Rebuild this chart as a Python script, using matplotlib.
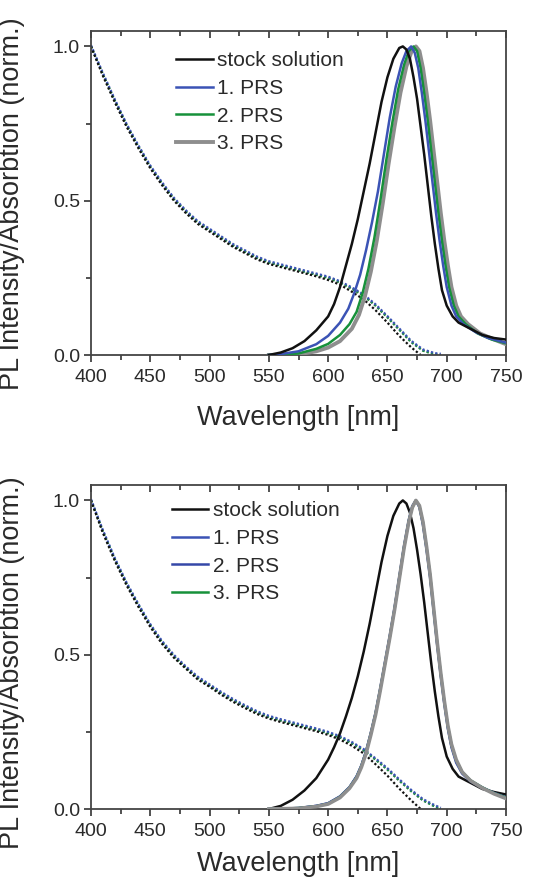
import numpy as np
import matplotlib
matplotlib.use('Agg')
import matplotlib.pyplot as plt
from matplotlib.ticker import MultipleLocator

plt.rcParams['font.family'] = ['Liberation Sans', 'DejaVu Sans']

# ---------------- data ----------------
# absorption
abs_wl_k = [400, 410, 420, 430, 440, 450, 460, 470, 480, 490, 500, 510, 520, 530, 540, 550,
            560, 570, 580, 590, 600, 610, 620, 630, 640, 650, 660, 670, 678]
abs_k_top = [1.0, 0.905, 0.82, 0.74, 0.67, 0.605, 0.55, 0.5, 0.46, 0.425, 0.4, 0.375, 0.35, 0.33,
             0.31, 0.295, 0.285, 0.275, 0.265, 0.255, 0.243, 0.228, 0.205, 0.18, 0.145, 0.105,
             0.062, 0.025, 0.0]
abs_wl_c = [400, 410, 420, 430, 440, 450, 460, 470, 480, 490, 500, 510, 520, 530, 540, 550,
            560, 570, 580, 590, 600, 610, 620, 630, 640, 650, 660, 670, 680, 690, 695]
abs_c_top = [1.0, 0.91, 0.825, 0.745, 0.675, 0.61, 0.555, 0.505, 0.465, 0.43, 0.405, 0.38, 0.355,
             0.335, 0.315, 0.3, 0.29, 0.28, 0.27, 0.26, 0.25, 0.235, 0.215, 0.192, 0.16, 0.122,
             0.082, 0.042, 0.014, 0.002, 0.0]
abs_k_bot = [1.0, 0.895, 0.805, 0.725, 0.655, 0.59, 0.535, 0.49, 0.455, 0.42, 0.396, 0.37, 0.347,
             0.327, 0.308, 0.293, 0.282, 0.272, 0.262, 0.252, 0.24, 0.225, 0.205, 0.18, 0.145,
             0.108, 0.066, 0.028, 0.0]
abs_c_bot = [1.0, 0.9, 0.81, 0.73, 0.66, 0.595, 0.54, 0.495, 0.458, 0.425, 0.4, 0.375, 0.352,
             0.332, 0.313, 0.298, 0.287, 0.277, 0.267, 0.257, 0.246, 0.232, 0.213, 0.19, 0.16,
             0.128, 0.092, 0.058, 0.028, 0.008, 0.0]

# PL, top panel
pl_wl_k = [550, 560, 570, 580, 590, 600, 605, 610, 615, 620, 625, 630, 635, 640, 645, 650, 655,
           660, 663, 666, 669, 672, 675, 678, 681, 684, 687, 690, 693, 696, 700, 705, 710, 720,
           730, 740, 750]
pl_k_top = [0.0, 0.008, 0.022, 0.045, 0.08, 0.125, 0.165, 0.22, 0.29, 0.36, 0.44, 0.53, 0.62,
            0.72, 0.82, 0.9, 0.96, 0.995, 1.0, 0.99, 0.96, 0.9, 0.83, 0.74, 0.65, 0.55, 0.45,
            0.36, 0.28, 0.21, 0.16, 0.125, 0.105, 0.085, 0.065, 0.055, 0.05]
pl_wl_1 = [550, 560, 575, 590, 600, 610, 617, 622, 627, 632, 637, 642, 647, 652, 657, 662, 666,
           670, 673, 676, 679, 682, 685, 688, 691, 694, 697, 700, 704, 708, 714, 724, 735, 750]
pl_1_top = [0.0, 0.003, 0.012, 0.035, 0.062, 0.105, 0.15, 0.2, 0.26, 0.34, 0.43, 0.53, 0.65,
            0.77, 0.87, 0.945, 0.985, 1.0, 0.98, 0.93, 0.85, 0.76, 0.66, 0.56, 0.46, 0.37, 0.29,
            0.22, 0.16, 0.125, 0.1, 0.075, 0.055, 0.04]
pl_wl_2 = [550, 575, 590, 600, 610, 618, 624, 629, 634, 639, 644, 649, 654, 659, 664, 668, 672,
           675, 678, 681, 684, 687, 690, 693, 696, 699, 702, 706, 710, 716, 726, 738, 750]
pl_2_top = [0.0, 0.005, 0.02, 0.036, 0.065, 0.1, 0.14, 0.2, 0.28, 0.38, 0.5, 0.63, 0.75, 0.86,
            0.94, 0.985, 1.0, 0.985, 0.93, 0.85, 0.76, 0.66, 0.56, 0.46, 0.37, 0.29, 0.22, 0.16,
            0.125, 0.1, 0.07, 0.05, 0.038]
pl_wl_3 = [550, 575, 590, 600, 610, 620, 626, 631, 636, 641, 646, 651, 656, 661, 666, 670, 674,
           677, 680, 683, 686, 689, 692, 695, 698, 701, 704, 708, 712, 718, 728, 740, 750]
pl_3_top = [0.0, 0.002, 0.012, 0.024, 0.045, 0.085, 0.13, 0.19, 0.27, 0.37, 0.49, 0.62, 0.74,
            0.85, 0.935, 0.98, 1.0, 0.985, 0.93, 0.85, 0.76, 0.66, 0.56, 0.46, 0.37, 0.29, 0.22,
            0.16, 0.125, 0.1, 0.07, 0.05, 0.035]

# PL, bottom panel
pl_wl_kb = [550, 560, 570, 580, 590, 600, 605, 610, 615, 620, 625, 630, 635, 640, 645, 650, 655,
            660, 663, 666, 669, 672, 675, 678, 681, 684, 687, 690, 693, 696, 700, 705, 710, 720,
            730, 740, 750]
pl_k_bot = [0.0, 0.01, 0.03, 0.06, 0.1, 0.16, 0.2, 0.245, 0.3, 0.36, 0.43, 0.51, 0.6, 0.7, 0.8,
            0.885, 0.95, 0.99, 1.0, 0.99, 0.96, 0.91, 0.84, 0.76, 0.67, 0.57, 0.47, 0.38, 0.3,
            0.23, 0.17, 0.13, 0.105, 0.085, 0.065, 0.055, 0.047]
pl_wl_b = [550, 575, 590, 600, 610, 618, 624, 628, 632, 636, 640, 644, 648, 652, 656, 660, 664,
           668, 671, 674, 677, 680, 683, 686, 689, 692, 695, 698, 701, 704, 708, 713, 720, 730,
           740, 750]
pl_1_bot = [0.0, 0.003, 0.01, 0.018, 0.04, 0.07, 0.105, 0.14, 0.186, 0.245, 0.31, 0.39, 0.475,
            0.56, 0.65, 0.75, 0.85, 0.935, 0.98, 1.0, 0.98, 0.925, 0.845, 0.755, 0.645, 0.535,
            0.435, 0.345, 0.265, 0.205, 0.155, 0.118, 0.092, 0.07, 0.052, 0.038]
pl_2_bot = [0.0, 0.003, 0.01, 0.019, 0.041, 0.071, 0.106, 0.141, 0.188, 0.247, 0.312, 0.392,
            0.477, 0.562, 0.652, 0.752, 0.852, 0.936, 0.982, 1.0, 0.978, 0.92, 0.84, 0.75, 0.64,
            0.53, 0.43, 0.34, 0.26, 0.2, 0.15, 0.115, 0.09, 0.068, 0.05, 0.036]
pl_3_bot = [0.0, 0.003, 0.009, 0.017, 0.039, 0.069, 0.103, 0.138, 0.184, 0.243, 0.308, 0.388,
            0.472, 0.557, 0.647, 0.747, 0.847, 0.932, 0.978, 1.0, 0.982, 0.928, 0.848, 0.758,
            0.648, 0.538, 0.438, 0.348, 0.268, 0.208, 0.158, 0.12, 0.093, 0.07, 0.051, 0.037]
pl_4_bot = [0.0, 0.002, 0.008, 0.016, 0.037, 0.067, 0.1, 0.135, 0.18, 0.24, 0.305, 0.385, 0.47,
            0.555, 0.645, 0.745, 0.845, 0.93, 0.977, 1.0, 0.983, 0.93, 0.85, 0.76, 0.65, 0.54,
            0.44, 0.35, 0.27, 0.21, 0.16, 0.12, 0.092, 0.068, 0.049, 0.034]

labels_top = ['stock solution', '1. PRS', '2. PRS', '3. PRS']
labels_bot = ['stock solution', '1. PRS', '2. PRS', '3. PRS']

BLACK = '#111111'
BLUE = '#3b53b5'
BLUE2 = '#3548a8'
GREEN = '#17913a'
GRAY = '#8e8e8e'
TXT = '#2a2a2a'

fig = plt.figure(figsize=(5.57, 8.83), dpi=100)
ax1 = fig.add_axes([91 / 557, 1 - 355 / 883, 415 / 557, 324 / 883])
ax2 = fig.add_axes([91 / 557, 1 - 809 / 883, 415 / 557, 324 / 883])

dots = (0, (1, 1))

# top panel
ax1.plot(abs_wl_c, abs_c_top, color=GRAY, lw=1.6, ls=dots)
ax1.plot(abs_wl_c, abs_c_top, color=GREEN, lw=1.6, ls=dots)
ax1.plot(abs_wl_c, np.array(abs_c_top) + 0.004, color=BLUE, lw=1.6, ls=dots)
ax1.plot(abs_wl_k, abs_k_top, color=BLACK, lw=1.6, ls=dots)
l3, = ax1.plot(pl_wl_3, pl_3_top, color=GRAY, lw=2.8, zorder=3)
l2, = ax1.plot(pl_wl_2, pl_2_top, color=GREEN, lw=1.8, zorder=4)
l1, = ax1.plot(pl_wl_1, pl_1_top, color=BLUE, lw=1.8, zorder=5)
l0, = ax1.plot(pl_wl_k, pl_k_top, color=BLACK, lw=1.8, zorder=6)
handles_top = [l0, l1, l2, l3]

# bottom panel
ax2.plot(abs_wl_c, abs_c_bot, color=GRAY, lw=1.6, ls=dots)
ax2.plot(abs_wl_c, abs_c_bot, color=GREEN, lw=1.6, ls=dots)
ax2.plot(abs_wl_c, np.array(abs_c_bot) + 0.004, color=BLUE, lw=1.6, ls=dots)
ax2.plot(abs_wl_k, abs_k_bot, color=BLACK, lw=1.6, ls=dots)
m0, = ax2.plot(pl_wl_kb, pl_k_bot, color=BLACK, lw=1.8, zorder=3)
m1, = ax2.plot(pl_wl_b, pl_1_bot, color=BLUE, lw=1.8, zorder=4)
m2, = ax2.plot(pl_wl_b, pl_2_bot, color=BLUE2, lw=1.8, zorder=4)
m3, = ax2.plot(pl_wl_b, pl_3_bot, color=GREEN, lw=1.8, zorder=5)
ax2.plot(pl_wl_b, pl_4_bot, color=GRAY, lw=2.6, zorder=6)
handles_bot = [m0, m1, m2, m3]

panels = [(ax1, 0.466, 0.205, 0.938, 14, handles_top, labels_top),
          (ax2, 0.452, 0.195, 0.95, 8, handles_bot, labels_bot)]
for ax, lab_y, leg_x, leg_y, lpad, hs, ls in panels:
    ax.set_xlim(400, 750)
    ax.set_ylim(0, 1.05)
    ax.xaxis.set_major_locator(MultipleLocator(50))
    ax.xaxis.set_minor_locator(MultipleLocator(25))
    ax.yaxis.set_minor_locator(MultipleLocator(0.25))
    ax.set_yticks([0, 0.5, 1.0])
    ax.set_yticklabels(['0.0', '0.5', '1.0'])
    ax.tick_params(which='both', direction='out', colors='#333333', labelcolor=TXT,
                   labelsize=14, width=1.2, right=False, top=False)
    ax.tick_params(which='major', length=5)
    ax.tick_params(axis='x', which='major', pad=5)
    ax.tick_params(axis='y', which='major', pad=3)
    ax.tick_params(which='minor', length=3.5)
    for s in ax.spines.values():
        s.set_color('#444444')
        s.set_linewidth(1.3)
    sec = ax.secondary_xaxis('top')
    sec.xaxis.set_major_locator(MultipleLocator(50))
    sec.xaxis.set_minor_locator(MultipleLocator(25))
    sec.tick_params(which='both', direction='in', labeltop=False, colors='#333333', width=1.2)
    sec.tick_params(which='major', length=5)
    sec.tick_params(which='minor', length=3.5)
    sec.spines['top'].set_visible(False)
    ax.set_xlabel('Wavelength [nm]', fontsize=19.5, color=TXT, labelpad=lpad)
    ax.set_ylabel('PL Intensity/Absorbtion (norm.)', fontsize=19.5, color=TXT)
    ax.yaxis.set_label_coords(-0.159, lab_y)
    ax.legend(hs, ls, loc='upper left', bbox_to_anchor=(leg_x, leg_y), frameon=False,
              fontsize=15, handlelength=1.75, handletextpad=0.2, labelspacing=0.42,
              borderpad=0, borderaxespad=0, labelcolor=TXT)

fig.savefig('out.png', dpi=100)
